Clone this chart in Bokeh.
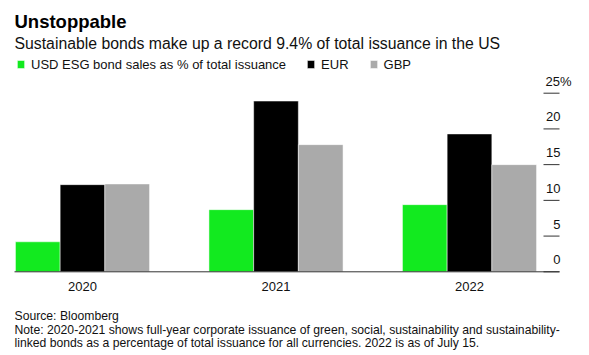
from bokeh.plotting import figure
from bokeh.models import Range1d, ColumnDataSource, Legend, LegendItem
from bokeh.core.properties import value
from bokeh.transform import dodge
from bokeh.embed import file_html
from bokeh.resources import INLINE

# ---- data ----
years = [2020, 2021, 2022]
usd = [4.2, 8.7, 9.4]
eur = [12.2, 23.9, 19.3]
gbp = [12.3, 17.8, 15.0]
series_names = ["USD ESG bond sales as % of total issuance", "EUR", "GBP"]
y_ticks = [0, 5, 10, 15, 20, 25]
y_tick_labels = ["0", "5", "10", "15", "20", "25%"]
year_labels = ["2020", "2021", "2022"]

title_text = "Unstoppable"
subtitle_text = "Sustainable bonds make up a record 9.4% of total issuance in the US"
source_text = "Source: Bloomberg"
note_lines = [
    "Note: 2020-2021 shows full-year corporate issuance of green, social, sustainability and sustainability-",
    "linked bonds as a percentage of total issuance for all currencies. 2022 is as of July 15.",
]

# ---- style / layout ----
FONT = "Liberation Sans"
GREEN = "#12ea1f"
BLACK = "#000000"
GRAY = "#aaaaaa"
TEXT = "#111111"
AXIS = "#333333"
W, H = 589, 355
PX_PER_YEAR = 193.5
PX_PER_UNIT = 7.144
X0_PX = 82.0        # pixel position of first category centre
BASE_PX = 271.3     # pixel position of value 0 (from top)
BAR_W = 44.7 / PX_PER_YEAR

x_start = years[0] - X0_PX / PX_PER_YEAR
y_start = -(H - BASE_PX) / PX_PER_UNIT

src = ColumnDataSource(dict(year=years, usd=usd, eur=eur, gbp=gbp))

p = figure(width=W, height=H, output_backend="svg", toolbar_location=None,
           title=None, x_axis_location=None, y_axis_location=None,
           x_range=Range1d(x_start, x_start + W / PX_PER_YEAR),
           y_range=Range1d(y_start, y_start + H / PX_PER_UNIT),
           min_border=0, min_border_left=0, min_border_right=0,
           min_border_top=0, min_border_bottom=0)
p.extra_x_ranges = {"px": Range1d(0, W)}
p.extra_y_ranges = {"py": Range1d(H, 0)}
p.outline_line_color = None
p.xgrid.visible = False
p.ygrid.visible = False
p.background_fill_color = "white"
p.border_fill_color = "white"

# bars
r1 = p.vbar(x=dodge("year", -BAR_W, range=p.x_range), top="usd", bottom=0, width=BAR_W,
            source=src, fill_color=GREEN, line_color="white", line_width=0.5)
r2 = p.vbar(x="year", top="eur", bottom=0, width=BAR_W,
            source=src, fill_color=BLACK, line_color="white", line_width=0.5)
r3 = p.vbar(x=dodge("year", BAR_W, range=p.x_range), top="gbp", bottom=0, width=BAR_W,
            source=src, fill_color=GRAY, line_color="white", line_width=0.5)

# baseline (x axis line)
p.segment(x0=[14], x1=[559], y0=[0], y1=[0], x_range_name="px",
          line_color=AXIS, line_width=1)

# x axis labels
p.text(x=years, y=[285.5] * len(years), text=year_labels, y_range_name="py",
       text_align="center", text_baseline="alphabetic",
       text_font=value(FONT), text_font_size=value("13px"), text_color=TEXT)

# y axis ticks and labels (right side, labels sit above tick marks)
p.segment(x0=[543] * len(y_ticks), x1=[559] * len(y_ticks), y0=y_ticks, y1=y_ticks,
          x_range_name="px", line_color=AXIS, line_width=1)
p.text(x=[560] * (len(y_ticks) - 1), y=y_ticks[:-1], text=y_tick_labels[:-1],
       x_range_name="px", y_offset=-12, text_align="right", text_baseline="alphabetic",
       text_font=value(FONT), text_font_size=value("13px"), text_color=TEXT)
p.text(x=[545], y=y_ticks[-1:], text=y_tick_labels[-1:],
       x_range_name="px", y_offset=-12, text_align="left", text_baseline="alphabetic",
       text_font=value(FONT), text_font_size=value("13px"), text_color=TEXT)

# legend
legend = Legend(items=[LegendItem(label=series_names[0], renderers=[r1]),
                       LegendItem(label=series_names[1], renderers=[r2]),
                       LegendItem(label=series_names[2], renderers=[r3])],
                orientation="horizontal", location=(16, H - 72),
                padding=0, margin=0, spacing=20, label_standoff=6,
                glyph_width=9, glyph_height=10, label_height=16,
                label_text_font=FONT, label_text_font_size="13px",
                label_text_color=TEXT, label_text_baseline="middle",
                border_line_color=None, background_fill_alpha=0)
p.add_layout(legend, "center")

# titles and notes
def add_text(txt, y, size, bold=False, color=TEXT):
    p.text(x=[14], y=[y], text=[txt], x_range_name="px", y_range_name="py",
           text_align="left", text_baseline="alphabetic",
           text_font=value(FONT), text_font_size=value(size),
           text_font_style="bold" if bold else "normal", text_color=color)

add_text(title_text, 20.8, "18.5px", bold=True, color="#000000")
add_text(subtitle_text, 42.5, "15.8px")
add_text(source_text, 315.8, "12.2px")
add_text(note_lines[0], 329.8, "12.2px")
add_text(note_lines[1], 342.5, "12.2px")

open("out.html", "w").write(file_html(p, INLINE))
